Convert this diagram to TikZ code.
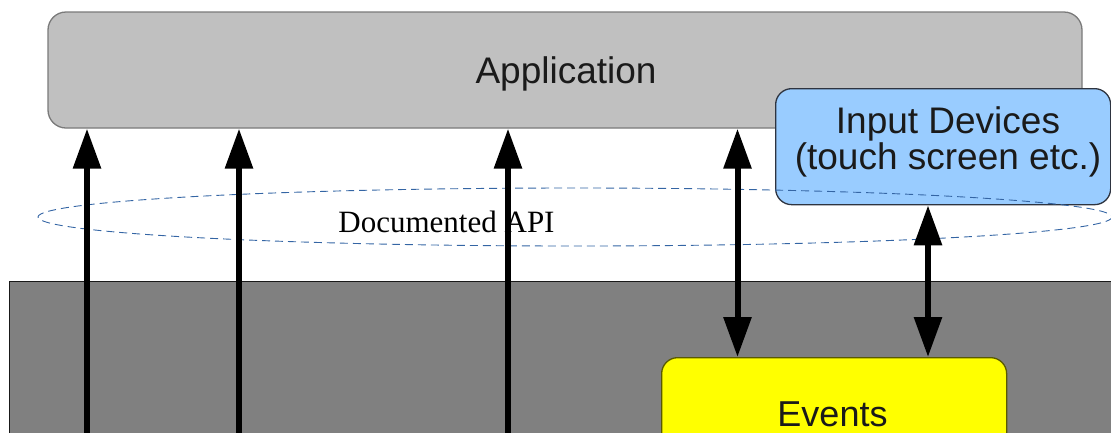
\documentclass[tikz,border=0pt]{standalone}
\usepackage{fontspec}
\setmainfont{Liberation Serif}
\newfontfamily\labelsans{Liberation Sans}
\usetikzlibrary{arrows.meta}

\definecolor{appfill}{HTML}{C0C0C0}
\definecolor{appline}{HTML}{7A7A7A}
\definecolor{inpfill}{HTML}{99CCFF}
\definecolor{inpline}{HTML}{2E3440}
\definecolor{evfill}{HTML}{FFFF00}
\definecolor{evline}{HTML}{5A5A00}
\definecolor{sysfill}{HTML}{808080}
\definecolor{apiline}{HTML}{3465A4}
\definecolor{txt}{HTML}{1A1A1A}

\tikzset{
  box/.style={rectangle, inner sep=0pt, line width=1.3pt},
  sanslabel/.style={inner sep=0pt, anchor=base, text=txt,
    font=\labelsans\fontsize{37}{31}\selectfont},
  flow/.style={line width=6pt, -{Triangle[length=40pt,width=27pt]}},
  flowboth/.style={line width=6pt, {Triangle[length=40pt,width=27pt]}-{Triangle[length=40pt,width=27pt]}},
}

\begin{document}
\begin{tikzpicture}[x=1pt,y=-1pt]
\useasboundingbox (0,0) rectangle (1111,432);
\clip (0,0) rectangle (1111,432);

% application layer
\node[box, draw=appline, fill=appfill, rounded corners=18pt,
      minimum width=1034pt, minimum height=116pt] (app) at (565,70) {};
\node[sanslabel] (apptext) at (566,83) {Application};

% system layer (runs past the lower and right edges)
\node[box, draw=black!90, fill=sysfill,
      minimum width=1140pt, minimum height=200pt, anchor=north west] (sys) at (9,281) {};

% events box
\node[box, draw=evline, fill=evfill, rounded corners=16pt,
      minimum width=345pt, minimum height=160pt, anchor=north west] (ev) at (661,357) {};
\node[sanslabel, font=\labelsans\fontsize{36}{36}\selectfont] (evtext) at (832.5,426) {Events};

% input devices box
\node[box, draw=inpline, fill=inpfill, rounded corners=16pt,
      minimum width=335pt, minimum height=116pt, anchor=north west] (inp) at (775,88) {};
\node[sanslabel, align=center] (inptext) at (948,169) {Input Devices\\(touch screen etc.)};

% documented API boundary
\draw[apiline, line width=0.9pt, dash pattern=on 8pt off 5pt] (575,217) ellipse [x radius=537, y radius=29];
\node[inner sep=0pt, anchor=base, font=\fontsize{31}{31}\selectfont] (api) at (446.5,232) {Documented API};

% calls from the system layer up into the application
\coordinate (s1) at (87,445);
\coordinate (s2) at (239,445);
\coordinate (s3) at (508,445);
\draw[flow] (s1) -- (s1 |- app.south);
\draw[flow] (s2) -- (s2 |- app.south);
\draw[flow] (s3) -- (s3 |- app.south);

% event traffic
\coordinate (e1) at (737.5,357);
\coordinate (e2) at (928,357);
\draw[flowboth] (e1 |- app.south) -- (e1 |- ev.north);
\draw[flowboth] (e2 |- inp.south) -- (e2 |- ev.north);
\end{tikzpicture}
\end{document}
